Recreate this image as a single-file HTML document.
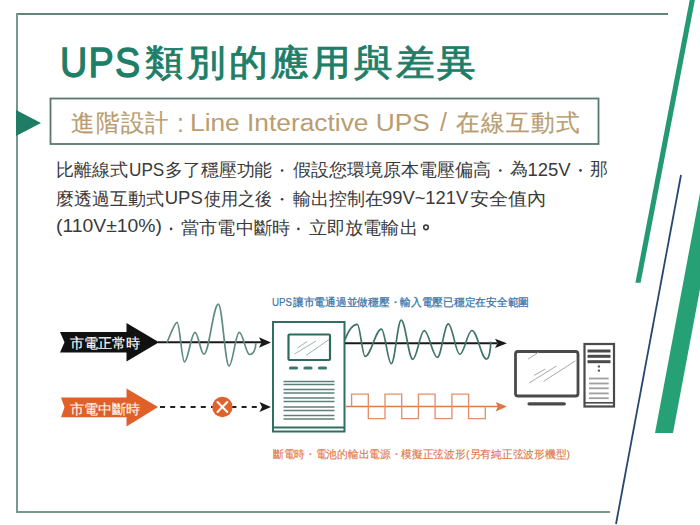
<!DOCTYPE html>
<html lang="zh-Hant">
<head>
<meta charset="utf-8">
<style>
html,body{margin:0;padding:0;background:#fff;}
body{width:700px;height:525px;position:relative;overflow:hidden;font-family:"Liberation Sans",sans-serif;}
.t{position:absolute;white-space:nowrap;transform-origin:0 0;}
svg{position:absolute;left:0;top:0;}
</style>
</head>
<body>
<svg width="700" height="525" viewBox="0 0 700 525">
  <!-- frame -->
  <line x1="17" y1="14" x2="668" y2="14" stroke="#62857d" stroke-width="2"/>
  <line x1="17" y1="13" x2="17" y2="513" stroke="#77978f" stroke-width="2"/>
  <line x1="16" y1="512" x2="610" y2="512" stroke="#77978f" stroke-width="2"/>
  <!-- diagonals -->
  <polygon points="689.7,0 694.9,0 640.6,282.8 635.4,282.8" fill="#25996f"/>
  <line x1="681" y1="175" x2="616" y2="524" stroke="#27476f" stroke-width="1.8"/>
  <polygon points="700,193 700,289 673,433 655,433" fill="#26a175"/>
  <!-- subtitle -->
  <polygon points="16,110 41,123 16,136" fill="#1f7d66"/>
  <rect x="50.5" y="98.5" width="548" height="45.5" fill="none" stroke="#58776f" stroke-width="1.8"/>
  <!-- diagram labels -->
  <!-- black arrow -->
  <polygon points="60,332 126.5,332 126.5,323 159,342.3 126.5,361.5 126.5,352.5 60,352.5 64.5,342.3" fill="#111"/>
  <!-- orange arrow -->
  <polygon points="61,397.5 126.5,397.5 126.5,388.5 158,407 126.5,426.5 126.5,417.2 61,417.2 64.5,407.3" fill="#e0602a"/>
  <!-- wave 1 axis -->
  <line x1="158" y1="342.3" x2="262" y2="342.3" stroke="#1a1a1a" stroke-width="2"/>
  <path d="M259,337.3 L271,342.5 L259,347.7 L261.5,342.5 Z" fill="#1a1a1a"/>
  <!-- wave 1 -->
  <path d="M166.9,342.6 C170,336 174.5,322.4 177.1,322.4 C179.7,322.4 181.8,361.8 184.4,361.8 C188.2,361.8 191.2,332.3 195,332.3 C198.2,332.3 200.7,354.2 203.9,354.2 C209.1,354.2 213.2,304.2 218.4,304.2 C222.2,304.2 225.2,365.9 229,365.9 C232.7,365.9 235.6,332.3 239.3,332.3 C243.0,332.3 245.9,354.5 249.6,354.5 C253,354.5 255.8,350 255.8,343.3" fill="none" stroke="#5e8b82" stroke-width="1.7"/>
  <!-- UPS box -->
  <rect x="273" y="322" width="71.5" height="109.5" fill="#fff" stroke="#2f7063" stroke-width="2"/>
  <line x1="273" y1="427.5" x2="344.5" y2="427.5" stroke="#2f7063" stroke-width="1.8"/>
  <rect x="288.5" y="334.5" width="41.5" height="25.5" rx="1" fill="none" stroke="#2f6a5e" stroke-width="2.2"/>
  <line x1="297.5" y1="348" x2="307" y2="341.5" stroke="#9bb5ae" stroke-width="1"/>
  <line x1="294.5" y1="354" x2="316" y2="341" stroke="#9bb5ae" stroke-width="1"/>
  <line x1="306" y1="355.5" x2="329" y2="339.5" stroke="#9bb5ae" stroke-width="1"/>
  <g stroke="#3a7a6c" stroke-width="3.2" stroke-linecap="round">
    <line x1="290.5" y1="368" x2="296.5" y2="368"/>
    <line x1="305" y1="368" x2="311" y2="368"/>
    <line x1="319.5" y1="368" x2="325.5" y2="368"/>
  </g>
  <g stroke="#5e7f77" stroke-width="1.4">
    <line x1="283.5" y1="381.5" x2="334.5" y2="381.5"/>
    <line x1="283.5" y1="384.5" x2="334.5" y2="384.5"/>
    <line x1="283.5" y1="389.5" x2="334.5" y2="389.5"/>
    <line x1="283.5" y1="393" x2="334.5" y2="393"/>
    <line x1="283.5" y1="398" x2="334.5" y2="398"/>
    <line x1="283.5" y1="401.5" x2="334.5" y2="401.5"/>
    <line x1="283.5" y1="407" x2="334.5" y2="407"/>
    <line x1="283.5" y1="410.5" x2="334.5" y2="410.5"/>
    <line x1="283.5" y1="415.5" x2="334.5" y2="415.5"/>
    <line x1="283.5" y1="419" x2="334.5" y2="419"/>
  </g>
  <!-- wave 2 axis -->
  <line x1="345" y1="343.3" x2="497" y2="343.3" stroke="#1a1a1a" stroke-width="2"/>
  <path d="M495,338.8 L507,343.3 L495,348 L497.5,343.3 Z" fill="#1a1a1a"/>
  <!-- wave 2 -->
  <path d="M345,339.6 C347.5,333 352,324.4 357.3,324.4 C360.1,324.4 362.3,356.4 365.1,356.4 C371.0,356.4 375.5,329.1 381.4,329.1 C385.0,329.1 387.7,363.7 391.3,363.7 C394.9,363.7 397.6,320.2 401.2,320.2 C405.4,320.2 408.6,359.3 412.8,359.3 C416.9,359.3 420.1,330.7 424.2,330.7 C428.9,330.7 432.6,357.4 437.3,357.4 C441.3,357.4 444.3,323.9 448.3,323.9 C452.4,323.9 455.7,354.3 459.8,354.3 C464.2,354.3 467.5,330.5 471.9,330.5 C477.2,330.5 481.2,359 486.5,359 C489,359 490.7,350 490.7,341.7" fill="none" stroke="#3f7468" stroke-width="1.7"/>
  <!-- dashed line -->
  <line x1="160" y1="407" x2="262" y2="407" stroke="#222" stroke-width="2" stroke-dasharray="5,5.2"/>
  <path d="M259.5,402 L271,407 L259.5,412 L262,407 Z" fill="#1a1a1a"/>
  <circle cx="222.4" cy="407" r="10.2" fill="#e0622a"/>
  <g stroke="#fff" stroke-width="2" stroke-linecap="round">
    <line x1="217.5" y1="402" x2="227.3" y2="412"/>
    <line x1="227.3" y1="402" x2="217.5" y2="412"/>
  </g>
  <!-- square wave -->
  <line x1="346" y1="406.5" x2="498" y2="406.5" stroke="#e07a48" stroke-width="1.6"/>
  <path d="M495.6,401.9 L507,406.5 L495.6,411.4 L498,406.5 Z" fill="#e0753f"/>
  <path d="M351.6,406.5 V394.1 H368.3 V418.6 H385 V394.1 H401.7 V418.6 H418.4 V394.1 H435.1 V418.6 H451.9 V394.1 H468.6 V418.6 H485.3 V406.5" fill="none" stroke="#e3906a" stroke-width="1.35"/>
  <!-- monitor -->
  <rect x="515.5" y="351.5" width="62.5" height="44.5" rx="2.5" fill="#fff" stroke="#4a4a4a" stroke-width="2.8"/>
  <line x1="529" y1="403.8" x2="564.3" y2="403.8" stroke="#4a4a4a" stroke-width="3.2" stroke-linecap="round"/>
  <g stroke="#a8a8a8" stroke-width="1">
    <line x1="528.1" y1="359.1" x2="538.4" y2="352.3"/>
    <line x1="534.1" y1="375.4" x2="545.3" y2="369.1"/>
    <line x1="529" y1="383.1" x2="556.4" y2="366"/>
    <line x1="543.6" y1="381.4" x2="575.3" y2="360.9"/>
  </g>
  <!-- tower -->
  <rect x="584.5" y="344" width="29.5" height="62.5" fill="#fff" stroke="#4a4a4a" stroke-width="2.2"/>
  <line x1="584.5" y1="402.8" x2="614" y2="402.8" stroke="#4a4a4a" stroke-width="1.6"/>
  <g stroke="#4a4a4a" stroke-width="3">
    <line x1="587.5" y1="351" x2="610.5" y2="351"/>
    <line x1="587.5" y1="356.3" x2="610.5" y2="356.3"/>
    <line x1="587.5" y1="361.7" x2="610.5" y2="361.7"/>
  </g>
  <rect x="597.8" y="365.5" width="2.2" height="2" fill="#555"/>
  <rect x="597.8" y="369.6" width="2.2" height="2" fill="#555"/>
  <g stroke="#a0a0a0" stroke-width="1.8">
    <line x1="589" y1="378.5" x2="608.7" y2="378.5"/>
    <line x1="589" y1="383.5" x2="608.7" y2="383.5"/>
    <line x1="589" y1="388.3" x2="608.7" y2="388.3"/>
    <line x1="589" y1="393.4" x2="608.7" y2="393.4"/>
    <line x1="589" y1="398.2" x2="608.7" y2="398.2"/>
  </g>
  <!-- body dots -->
  <g fill="#3a3a3a">
    <circle cx="282.1" cy="170.5" r="1.3"/>
    <circle cx="500.3" cy="170.5" r="1.3"/>
    <circle cx="580.5" cy="170.4" r="1.3"/>
    <circle cx="282.1" cy="199.3" r="1.3"/>
    <circle cx="171.1" cy="228.9" r="1.3"/>
    <circle cx="298.4" cy="228.9" r="1.3"/>
  </g>
  <circle cx="426" cy="227.3" r="2.3" fill="none" stroke="#3a3a3a" stroke-width="1.6"/>
</svg>
<div class="t" style="left:60.39px;top:40.6px;font-size:43.35px;line-height:43.35px;color:#1e7e67;-webkit-text-stroke:1.3px #1e7e67;letter-spacing:1.5px;transform:scaleX(0.8716);">UPS</div>
<div class="t" style="left:145.0px;top:45.5px;font-size:35.86px;line-height:35.86px;color:#1e7e67;-webkit-text-stroke:0.9px #1e7e67;letter-spacing:3px;transform:scaleX(1.0714);">類別的應用與差異</div>
<div class="t" style="left:71.02px;top:112px;font-size:23.5px;line-height:23.5px;color:#b99d70;-webkit-text-stroke:0.2px #b99d70;letter-spacing:1.3px;transform:scaleX(0.9796);">進階設計</div>
<div class="t" style="left:177.0px;top:110.5px;font-size:25px;line-height:25px;color:#b99d70;">:</div>
<div class="t" style="left:189.83px;top:110.6px;font-size:24.21px;line-height:24.21px;color:#b99d70;transform:scaleX(1.0872);">Line Interactive UPS</div>
<div class="t" style="left:440.0px;top:110px;font-size:25px;line-height:25px;color:#b99d70;">/</div>
<div class="t" style="left:456.0px;top:112px;font-size:23.5px;line-height:23.5px;color:#b99d70;-webkit-text-stroke:0.2px #b99d70;letter-spacing:1.3px;transform:scaleX(0.9839);">在線互動式</div>
<div class="t" style="left:56.0px;top:161px;font-size:18px;line-height:18px;color:#3a3a3a;">比離線式</div>
<div class="t" style="left:129.07px;top:160.5px;font-size:18.5px;line-height:18.5px;color:#3a3a3a;transform:scaleX(0.9278);">UPS</div>
<div class="t" style="left:164.71px;top:161px;font-size:18px;line-height:18px;color:#3a3a3a;transform:scaleX(0.9935);">多了穩壓功能</div>
<div class="t" style="left:292.5px;top:161px;font-size:18px;line-height:18px;color:#3a3a3a;">假設您環境原本電壓偏高</div>
<div class="t" style="left:510.1px;top:160px;font-size:18px;line-height:18px;color:#3a3a3a;">為</div>
<div class="t" style="left:527.5px;top:160.5px;font-size:18.5px;line-height:18.5px;color:#3a3a3a;">125V</div>
<div class="t" style="left:589.65px;top:160px;font-size:18px;line-height:18px;color:#3a3a3a;">那</div>
<div class="t" style="left:56.2px;top:189.5px;font-size:18px;line-height:18px;color:#3a3a3a;">麼透過互動式</div>
<div class="t" style="left:164.7px;top:188.8px;font-size:18.5px;line-height:18.5px;color:#3a3a3a;">UPS</div>
<div class="t" style="left:204.3px;top:189.5px;font-size:18px;line-height:18px;color:#3a3a3a;transform:scaleX(0.9535);">使用之後</div>
<div class="t" style="left:293.0px;top:189.5px;font-size:18px;line-height:18px;color:#3a3a3a;">輸出控制在</div>
<div class="t" style="left:382.11px;top:188.8px;font-size:18.5px;line-height:18.5px;color:#3a3a3a;transform:scaleX(0.9919);">99V~121V</div>
<div class="t" style="left:469.94px;top:189.5px;font-size:18px;line-height:18px;color:#3a3a3a;transform:scaleX(1.0623);">安全值內</div>
<div class="t" style="left:56.15px;top:216.6px;font-size:18.5px;line-height:18.5px;color:#3a3a3a;transform:scaleX(1.0455);">(110V±10%)</div>
<div class="t" style="left:181.49px;top:219px;font-size:18px;line-height:18px;color:#3a3a3a;transform:scaleX(1.0104);">當市電中斷時</div>
<div class="t" style="left:308.9px;top:219px;font-size:18px;line-height:18px;color:#3a3a3a;transform:scaleX(1.0067);">立即放電輸出</div>
<div class="t" style="left:70.19px;top:337px;font-size:13.5px;line-height:13.5px;color:#ffffff;-webkit-text-stroke:0.15px #ffffff;transform:scaleX(1.0058);">市電正常時</div>
<div class="t" style="left:70.19px;top:402.6px;font-size:13.5px;line-height:13.5px;color:#fff4ec;-webkit-text-stroke:0.15px #fff4ec;transform:scaleX(1.0058);">市電中斷時</div>
<div class="t" style="left:271.62px;top:296.5px;font-size:11px;line-height:11px;color:#3a73a8;-webkit-text-stroke:0.2px #3a73a8;transform:scaleX(0.881);">UPS</div>
<div class="t" style="left:292.5px;top:296.5px;font-size:10.8px;line-height:10.8px;color:#3a73a8;-webkit-text-stroke:0.25px #3a73a8;transform:scaleX(0.9751);">讓市電通過並做穩壓・輸入電壓已穩定在安全範圍</div>
<div class="t" style="left:272.6px;top:449.3px;font-size:10.8px;line-height:10.8px;color:#e2764a;-webkit-text-stroke:0.15px #e2764a;transform:scaleX(0.9716);">斷電時・電池的輸出電源・模擬正弦波形</div>
<div class="t" style="left:465.92px;top:448.5px;font-size:10.8px;line-height:10.8px;color:#e2764a;-webkit-text-stroke:0.15px #e2764a;transform:scaleX(0.979);">(另有純正弦波形機型)</div>
</body>
</html>
